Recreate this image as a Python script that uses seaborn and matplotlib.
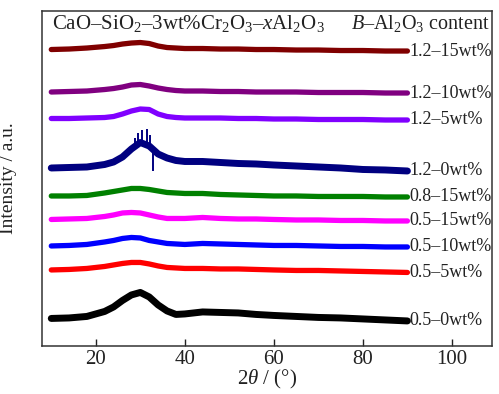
import numpy as np
import pandas as pd
import matplotlib
matplotlib.use("Agg")
import matplotlib.pyplot as plt
import seaborn as sns

# 2theta grid (deg) used for all patterns
two_theta = [10, 14, 18, 22, 24, 26, 28, 30, 32, 34, 36, 38, 40, 44, 48, 52, 56, 60, 65, 70, 75, 80, 85, 90]

# stacked intensities (a.u.)
i_12_15 = [344.5, 345, 346, 347.5, 348.5, 350, 351, 351.5, 350.5, 348, 346.5, 346, 345.5, 345.5, 345, 345, 344.5, 344.5, 344, 344, 343.5, 343.5, 343, 343]
i_12_10 = [302, 302.5, 303, 304.5, 305.5, 307, 309, 309.5, 308, 306, 304.5, 303.5, 303, 303, 302.5, 302.5, 302, 302, 302, 301.5, 301.5, 301.5, 301, 301]
i_12_5 = [275.5, 275.5, 276, 276.5, 277.5, 280, 283, 285, 284.5, 280, 277.5, 276.5, 276, 276, 276, 275.5, 275.5, 275, 275, 274.5, 274.5, 274.5, 274, 274]
i_12_0 = [226, 226.5, 227, 229.5, 232, 237, 245, 251.5, 248, 240, 236, 233.5, 232.5, 232.5, 231.5, 230.5, 230, 229, 228, 227, 226, 224.5, 224, 223]
i_08_15 = [198, 198, 198.5, 201, 202.5, 204, 205.5, 205.5, 204.5, 203, 201.5, 201, 200.5, 200.5, 199.5, 199, 198.5, 198, 198, 197.5, 197.5, 197.5, 197, 197]
i_05_15 = [174.5, 175, 175.5, 177.5, 179, 181, 181.5, 181, 179, 177, 175.5, 175.5, 175.5, 176.5, 175.5, 175, 175, 174.5, 174, 174, 173.5, 173.5, 173, 173]
i_05_10 = [148, 148.5, 149.5, 152, 153.5, 155.5, 156.5, 156, 153.5, 152, 150.5, 150, 149.5, 150.5, 150, 149.5, 149, 148.5, 148.5, 148, 147.5, 147.5, 147, 147]
i_05_5 = [124, 124.5, 125.5, 127.5, 129, 130.5, 131.5, 131.5, 130, 128, 126.5, 126, 125.5, 125.5, 125, 125, 124.5, 124, 123.5, 123.5, 123, 122.5, 122, 121.5]
i_05_0 = [75.5, 76, 77.5, 82.5, 87, 93.5, 99, 101.5, 97, 89, 83, 79.5, 80, 82, 81.5, 81, 79.5, 78.5, 77.5, 76.5, 76, 75, 74, 73]

# sharp spikes on the 1.2-0wt% pattern
spike_2t = [28.8, 29.4, 30.4, 31.6, 32.1, 32.8]
spike_lo = [244, 247, 251, 249, 247, 223]
spike_hi = [256, 261, 264, 264.5, 259, 245]

labels = ["1.2–15wt%", "1.2–10wt%", "1.2–5wt%", "1.2–0wt%", "0.8–15wt%",
          "0.5–15wt%", "0.5–10wt%", "0.5–5wt%", "0.5–0wt%"]
series = [i_12_15, i_12_10, i_12_5, i_12_0, i_08_15, i_05_15, i_05_10, i_05_5, i_05_0]
colors = ["#800000", "#800080", "#8000FF", "#000080", "#008000",
          "#FF00FF", "#0000FF", "#FF0000", "#000000"]

df = pd.concat([pd.DataFrame({"two_theta": two_theta, "intensity": s, "sample": lab})
                for s, lab in zip(series, labels)], ignore_index=True)

sns.set_theme(style="ticks")
plt.rcParams["font.family"] = ["Liberation Serif", "DejaVu Serif"]
plt.rcParams["mathtext.fontset"] = "custom"
plt.rcParams["mathtext.rm"] = "Liberation Serif"
plt.rcParams["mathtext.it"] = "Liberation Serif:italic"

fig = plt.figure(figsize=(4.99, 3.94), dpi=100)
ax = fig.add_axes([0.084, 0.122, 0.902, 0.850])

for lab, c in zip(labels, colors):
    d = df[df["sample"] == lab]
    lw = 5.0 if lab in ("0.5–0wt%", "1.2–0wt%") else 3.8
    sns.lineplot(data=d, x="two_theta", y="intensity", color=c, lw=lw,
                 estimator=None, sort=False, ax=ax, legend=False)
    ax.text(90.4, d["intensity"].iloc[-1], lab, ha="left", va="center",
            fontsize=13, color="#222222")

ax.vlines(spike_2t, spike_lo, spike_hi, color="#000080", lw=1.4)

ax.set_xlim(7.9, 109)
ax.set_ylim(48, 383)
ax.set_xticks([20, 40, 60, 80, 100])
ax.set_yticks([])
ax.tick_params(axis="x", direction="in", length=5, width=1, labelsize=15,
               colors="#222222", pad=3)
for sp in ax.spines.values():
    sp.set_linewidth(1.1)
    sp.set_color("#333333")

ax.set_xlabel(r"2$\it{\theta}$ / (°)", fontsize=15, color="#222222")
ax.set_ylabel("Intensity / a.u.", fontsize=14, color="#222222")
ax.xaxis.set_label_coords(0.5, -0.066)
ax.yaxis.set_label_coords(-0.056, 0.5)

ax.text(0.022, 0.993, r"CaO–SiO$_2$–3wt%Cr$_2$O$_3$–$x$Al$_2$O$_3$",
        transform=ax.transAxes, ha="left", va="top", fontsize=15, color="#222222")
ax.text(0.995, 0.993, r"$B$–Al$_2$O$_3$ content",
        transform=ax.transAxes, ha="right", va="top", fontsize=14.5, color="#222222")

fig.savefig("out.png", dpi=100)
